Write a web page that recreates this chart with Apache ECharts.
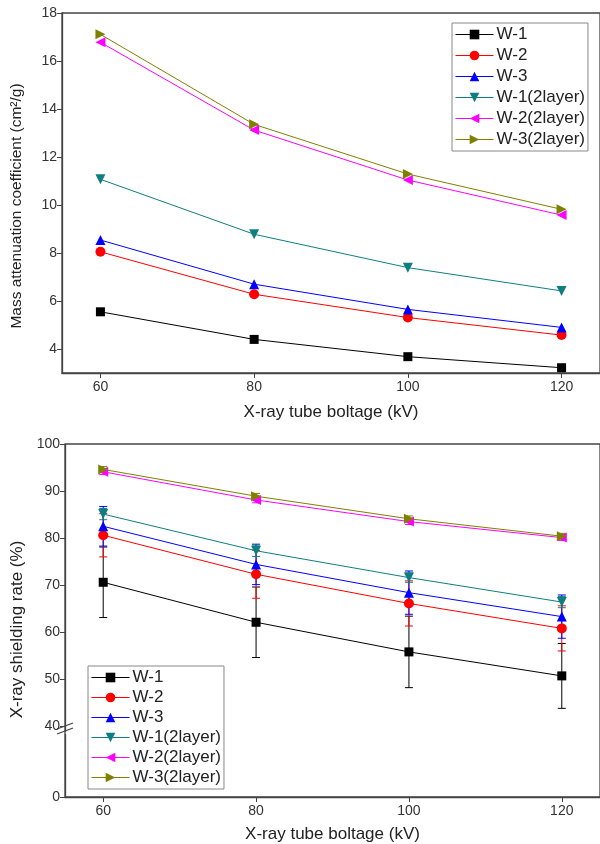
<!DOCTYPE html>
<html>
<head>
<meta charset="utf-8">
<script src="https://cdn.jsdelivr.net/npm/echarts@6.0.0/dist/echarts.min.js"></script>
<style>
html, body { margin: 0; padding: 0; background: #fff; }
#main { width: 600px; height: 844px; }
</style>
</head>
<body>
<div id="main"></div>
<script>
var voltage = [60, 80, 100, 120];
var names = ['W-1', 'W-2', 'W-3', 'W-1(2layer)', 'W-2(2layer)', 'W-3(2layer)'];
var xTicks = [60, 80, 100, 120];
var topTicks = [4, 6, 8, 10, 12, 14, 16, 18];
var bottomTicks = [0, 40, 50, 60, 70, 80, 90, 100];

// mass attenuation coefficient (cm2/g)
var massW1 = [5.55, 4.40, 3.68, 3.22];
var massW2 = [8.05, 6.28, 5.31, 4.58];
var massW3 = [8.54, 6.70, 5.65, 4.90];
var massW1L2 = [11.07, 8.78, 7.39, 6.42];
var massW2L2 = [16.78, 13.12, 11.04, 9.58];
var massW3L2 = [17.11, 13.36, 11.29, 9.82];

// x-ray shielding rate (%) and its error
var rateW1 = [70.6, 62.1, 55.8, 50.7];
var rateW2 = [80.6, 72.3, 66.1, 60.8];
var rateW3 = [82.5, 74.4, 68.4, 63.3];
var rateW1L2 = [85.1, 77.3, 71.6, 66.4];
var rateW2L2 = [94.1, 88.1, 83.5, 80.1];
var rateW3L2 = [94.6, 88.9, 84.1, 80.4];
var errW1 = [7.5, 7.5, 7.6, 6.9];
var errW2 = [4.6, 5.1, 4.8, 4.8];
var errW3 = [4.2, 4.3, 4.6, 4.6];
var errW1L2 = [1.2, 1.2, 1.0, 1.2];
var errW2L2 = [0.6, 0.6, 0.6, 0.6];
var errW3L2 = [0.6, 0.6, 0.6, 0.6];

var colors = ['#000000', '#ff0000', '#0000ff', '#0e7f80', '#ff00ff', '#808000'];
var symbols = ['rect', 'circle', 'triangle', 'triangle', 'triangle', 'triangle'];
var rotates = [0, 0, 0, 180, 90, -90];
var sizes = [9, 10, 10, 10, 10, 10];

var massData = [massW1, massW2, massW3, massW1L2, massW2L2, massW3L2];
var rateData = [rateW1, rateW2, rateW3, rateW1L2, rateW2L2, rateW3L2];
var errData = [errW1, errW2, errW3, errW1L2, errW2L2, errW3L2];

var font = 'Liberation Sans, Arial, sans-serif';
var axisColor = '#444';

function lineSeries(i, vals, idx) {
	return {
		name: names[i],
		type: 'line',
		xAxisIndex: idx,
		yAxisIndex: idx,
		data: voltage.map(function (v, j) { return [v, vals[j]]; }),
		symbol: symbols[i],
		symbolRotate: rotates[i],
		symbolSize: sizes[i],
		itemStyle: { color: colors[i] },
		lineStyle: { color: colors[i], width: 1 },
		emphasis: { disabled: true },
		z: 3
	};
}

function errSeries(i, vals, errs) {
	return {
		name: names[i] + ' err',
		type: 'custom',
		xAxisIndex: 1,
		yAxisIndex: 1,
		data: voltage.map(function (v, j) { return [v, vals[j] - errs[j], vals[j] + errs[j]]; }),
		encode: { x: 0, y: [1, 2] },
		silent: true,
		z: 2,
		renderItem: function (params, api) {
			var lo = api.coord([api.value(0), api.value(1)]);
			var hi = api.coord([api.value(0), api.value(2)]);
			var w = 4;
			var st = { stroke: colors[i], lineWidth: 1 };
			return {
				type: 'group',
				children: [
					{ type: 'line', shape: { x1: lo[0], y1: lo[1], x2: hi[0], y2: hi[1] }, style: st },
					{ type: 'line', shape: { x1: lo[0] - w, y1: lo[1], x2: lo[0] + w, y2: lo[1] }, style: st },
					{ type: 'line', shape: { x1: hi[0] - w, y1: hi[1], x2: hi[0] + w, y2: hi[1] }, style: st }
				]
			};
		}
	};
}

function xAxis(idx, gap) {
	return {
		type: 'value',
		gridIndex: idx,
		min: 55,
		max: 125,
		name: 'X-ray tube boltage (kV)',
		nameLocation: 'middle',
		nameGap: gap,
		nameTextStyle: { fontFamily: font, fontSize: 17, color: '#222' },
		axisLine: { lineStyle: { color: axisColor, width: 1.3 } },
		axisTick: { length: 5, customValues: xTicks, lineStyle: { color: axisColor } },
		axisLabel: { customValues: xTicks, fontFamily: font, fontSize: 14, color: '#333', margin: 7 },
		splitLine: { show: false }
	};
}

var series = [];
for (var i = 0; i < names.length; i++) {
	series.push(lineSeries(i, massData[i], 0));
}
for (var i = 0; i < names.length; i++) {
	series.push(errSeries(i, rateData[i], errData[i]));
	series.push(lineSeries(i, rateData[i], 1));
}

var legendStyle = {
	orient: 'vertical',
	itemWidth: 38,
	itemHeight: 12,
	itemGap: 4,
	backgroundColor: '#fff',
	borderColor: '#888',
	borderWidth: 1,
	borderRadius: 0,
	padding: [3, 3, 3, 3],
	lineStyle: { width: 1 },
	textStyle: { fontFamily: font, fontSize: 17, color: '#222', padding: [0, 0, 0, -2] },
	data: names
};

var option = {
	backgroundColor: '#fff',
	animation: false,
	grid: [
		{ left: 62, right: -4, top: 13, bottom: 471, show: true, borderColor: axisColor, borderWidth: 1.3 },
		{ left: 65, right: -4, top: 444, bottom: 44, show: true, borderColor: axisColor, borderWidth: 1.3 }
	],
	legend: [
		Object.assign({}, legendStyle, { left: 452, top: 23, itemGap: 4 }),
		Object.assign({}, legendStyle, { left: 88, top: 666, itemGap: 3 })
	],
	xAxis: [xAxis(0, 31), xAxis(1, 29)],
	yAxis: [
		{
			type: 'value',
			gridIndex: 0,
			min: 3,
			max: 18,
			name: 'Mass attenuation coefficient (cm\u00b2/g)',
			nameLocation: 'middle',
			nameGap: 37,
			nameTextStyle: { fontFamily: font, fontSize: 15.5, color: '#222', padding: [0, 0, 0, -26] },
			axisLine: { lineStyle: { color: axisColor, width: 1.3 } },
			axisTick: { length: 5, customValues: topTicks, lineStyle: { color: axisColor } },
			axisLabel: { customValues: topTicks, fontFamily: font, fontSize: 14, color: '#333', margin: 5 },
			splitLine: { show: false }
		},
		{
			type: 'value',
			gridIndex: 1,
			min: 0,
			max: 100,
			interval: 10,
			breaks: [{ start: 13.3, end: 39, gap: '1%' }],
			breakArea: { show: false },
			name: 'X-ray shielding rate (%)',
			nameLocation: 'middle',
			nameGap: 38,
			nameTextStyle: { fontFamily: font, fontSize: 17, color: '#222', padding: [0, 0, 0, -18] },
			axisLine: { lineStyle: { color: axisColor, width: 1.3 } },
			axisTick: { length: 5, customValues: bottomTicks, lineStyle: { color: axisColor } },
			axisLabel: { customValues: bottomTicks, fontFamily: font, fontSize: 14, color: '#333', margin: 5 },
			splitLine: { show: false }
		}
	],
	graphic: [
		// break mark "//" on the lower y axis
		{ type: 'line', shape: { x1: 57, y1: 729, x2: 73, y2: 723 }, style: { stroke: axisColor, lineWidth: 1.3 } },
		{ type: 'line', shape: { x1: 57, y1: 734, x2: 73, y2: 728 }, style: { stroke: axisColor, lineWidth: 1.3 } }
	],
	series: series
};

var myChart = echarts.init(document.getElementById('main'));
myChart.setOption(option);
</script>
</body>
</html>
